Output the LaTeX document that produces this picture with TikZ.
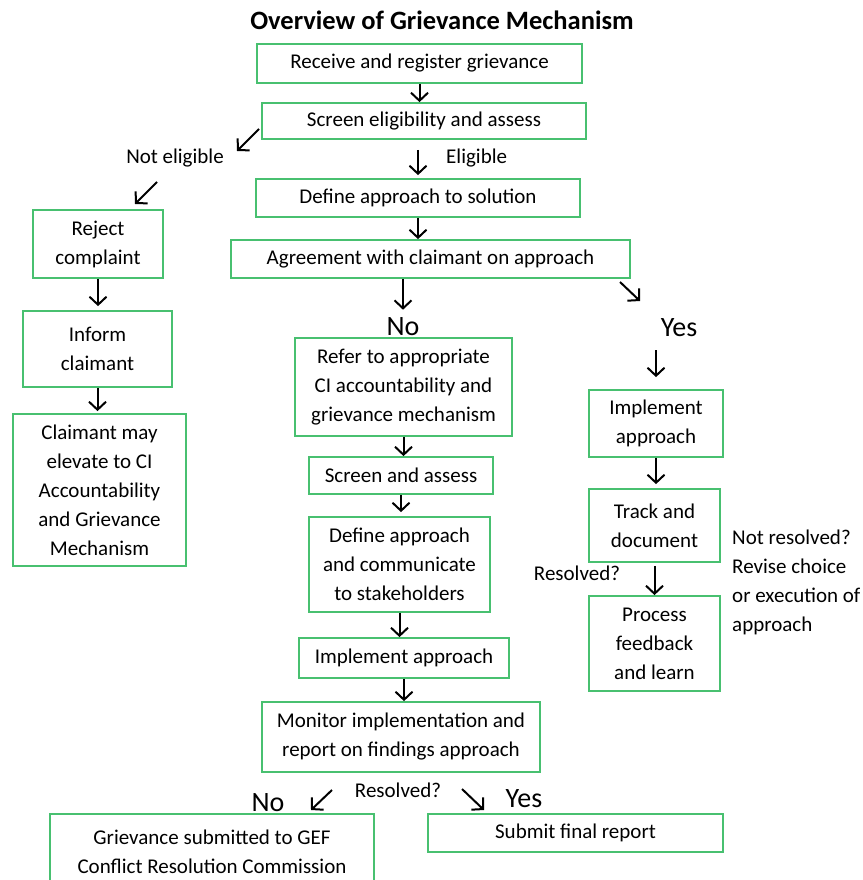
\documentclass[tikz,border=0pt]{standalone}
\usepackage{fontspec}
\setmainfont{Carlito}
\definecolor{BoxGreen}{RGB}{72,192,112}
\usepackage{tikz}
\usetikzlibrary{arrows.meta, positioning}

\begin{document}
\begin{tikzpicture}[x=1pt, y=-1pt,
    box/.style={draw=BoxGreen, line width=1.8pt, align=center, inner sep=0pt, font=\fontsize{21}{29}\selectfont},
    arr/.style={-{Straight Barb[length=8pt, width=17pt]}, line width=2pt},
    lbl/.style={inner sep=0pt, font=\fontsize{21}{29}\selectfont},
    yesno/.style={inner sep=0pt, font=\fontsize{28}{30}\selectfont}]
          \useasboundingbox (0,0) rectangle (862,880);
          \node[font=\bfseries\fontsize{26.5}{28}\selectfont] (title) at (442,20) {Overview of Grievance Mechanism};
          \node[box, minimum width=325pt, minimum height=39pt] (recv) at (419.5,63.5) {Receive and register grievance};
          \node[box, minimum width=324pt, minimum height=36pt] (screen) at (424,121) {Screen eligibility and assess};
          \node[box, minimum width=324pt, minimum height=38pt] (define) at (418,198) {Define approach to solution};
          \node[box, minimum width=399pt, minimum height=38pt] (agree) at (430.5,259) {Agreement with claimant on approach};
          \node[box, minimum width=130pt, minimum height=68pt] (reject) at (98,244) {Reject\\complaint};
          \node[box, minimum width=149pt, minimum height=76pt] (inform) at (97.5,349) {Inform\\claimant};
          \node[box, minimum width=173pt, minimum height=152pt] (claimant) at (99.5,490) {Claimant may\\elevate to CI\\Accountability\\and Grievance\\Mechanism};
          \node[box, minimum width=217pt, minimum height=98pt] (refer) at (403.5,387) {Refer to appropriate\\CI accountability and\\grievance mechanism};
          \node[box, minimum width=184pt, minimum height=37pt] (scrass) at (401,475.5) {Screen and assess};
          \node[box, minimum width=181pt, minimum height=95pt] (defcomm) at (399.5,564.5) {Define approach\\and communicate\\to stakeholders};
          \node[box, minimum width=210pt, minimum height=40pt] (implmid) at (404,658) {Implement approach};
          \node[box, minimum width=278pt, minimum height=70pt] (monitor) at (401,737) {Monitor implementation and\\report on findings approach};
          \node[box, minimum width=134pt, minimum height=67pt] (implright) at (656,423.5) {Implement\\approach};
          \node[box, minimum width=131pt, minimum height=73pt] (track) at (654.5,525.5) {Track and\\document};
          \node[box, minimum width=131pt, minimum height=95pt] (process) at (654.5,643.5) {Process\\feedback\\and learn};
          \node[box, minimum width=324pt, minimum height=76pt] (gef) at (212,852) {Grievance submitted to GEF\\Conflict Resolution Commission};
          \node[box, minimum width=295pt, minimum height=38pt] (final) at (575.5,833) {Submit final report};
          \node[lbl] (noteli) at (175,158) {Not eligible};
          \node[lbl, anchor=west] (eli) at (446,158) {Eligible};
          \node[yesno] (no1) at (403,327) {No};
          \node[yesno] (yes1) at (679,328) {Yes};
          \node[lbl, align=left, anchor=north west] (notres) at (732,530) {Not resolved?\\Revise choice\\or execution of\\approach};
          \node[lbl] (res1) at (577,573) {Resolved?};
          \node[lbl] (res2) at (398,790) {Resolved?};
          \node[yesno] (no2) at (268,803) {No};
          \node[yesno] (yes2) at (524,799) {Yes};
          \coordinate (ne1) at (259,129);
          \coordinate (ne1e) at (237,151);
          \coordinate (ne2) at (157,182);
          \coordinate (ne2e) at (135,204);
          \coordinate (ag) at (620,282);
          \coordinate (age) at (640,301);
          \coordinate (mo1) at (332,790);
          \coordinate (mo1e) at (311,810);
          \coordinate (mo2) at (462,789);
          \coordinate (mo2e) at (484,810);
          \draw[arr] (recv.south) -- (recv.south |- screen.north);
          \draw[arr, shorten <=10pt, shorten >=3pt] (define.north |- screen.south) -- (define.north);
          \draw[arr] (define.south) -- (define.south |- agree.north);
          \draw[arr, shorten >=8pt] (no1 |- agree.south) -- (no1.north);
          \draw[arr, shorten >=4pt] (reject.south) -- (reject.south |- inform.north);
          \draw[arr, shorten >=2pt] (inform.south) -- (inform.south |- claimant.north);
          \draw[arr, shorten <=13pt, shorten >=12pt] (implright.north |- yes1.south) -- (implright.north);
          \draw[arr] (refer.south) -- (refer.south |- scrass.north);
          \draw[arr, shorten >=4pt] (scrass.south) -- (scrass.south |- defcomm.north);
          \draw[arr, shorten >=4pt] (implright.south) -- (implright.south |- track.north);
          \draw[arr, shorten <=3pt] (track.south) -- (track.south |- process.north);
          \draw[arr] (defcomm.south) -- (defcomm.south |- implmid.north);
          \draw[arr] (implmid.south) -- (implmid.south |- monitor.north);
          \draw[arr] (ne1) -- (ne1e);
          \draw[arr] (ne2) -- (ne2e);
          \draw[arr] (ag) -- (age);
          \draw[arr] (mo1) -- (mo1e);
          \draw[arr] (mo2) -- (mo2e);
        \end{tikzpicture}
\end{document}
